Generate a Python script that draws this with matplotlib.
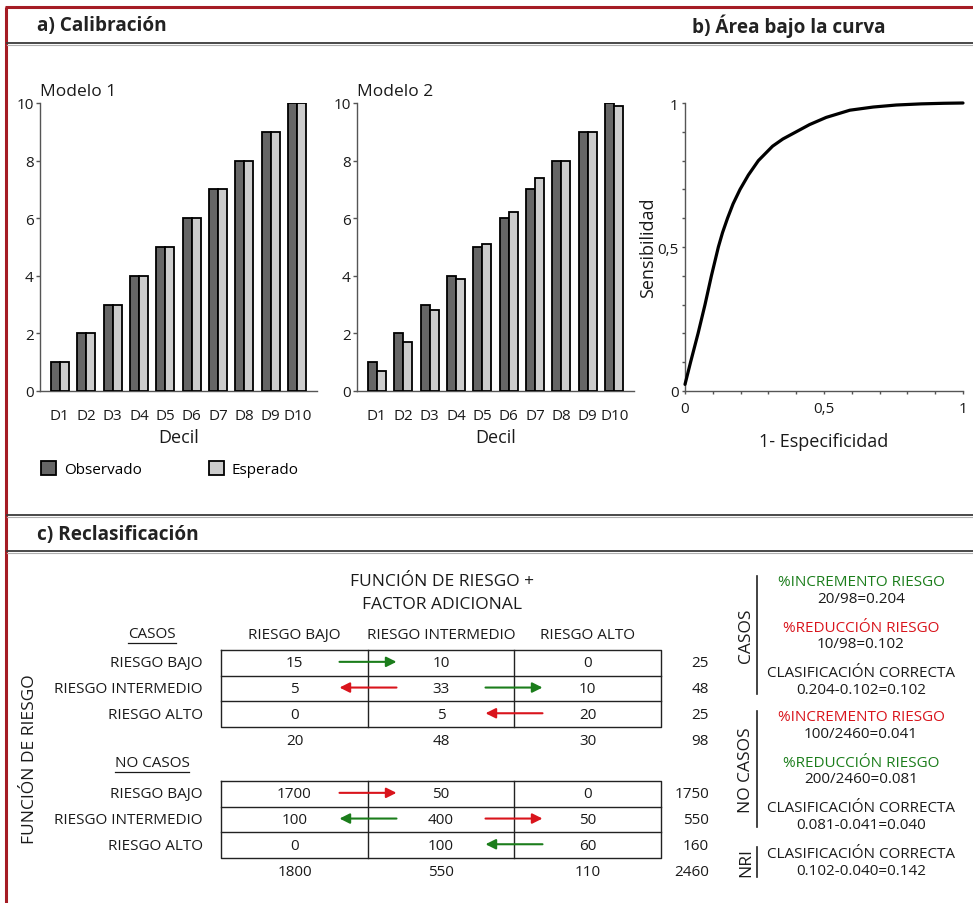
import numpy as np
import matplotlib
matplotlib.use('Agg')
import matplotlib.pyplot as plt

plt.rcParams['font.family'] = ['Open Sans', 'DejaVu Sans']

# ---------------- data ----------------
deciles = ['D1', 'D2', 'D3', 'D4', 'D5', 'D6', 'D7', 'D8', 'D9', 'D10']
m1_observado = [1, 2, 3, 4, 5, 6, 7, 8, 9, 10]
m1_esperado = [1, 2, 3, 4, 5, 6, 7, 8, 9, 10]
m2_observado = [1, 2, 3, 4, 5, 6, 7, 8, 9, 10]
m2_esperado = [0.7, 1.7, 2.8, 3.9, 5.1, 6.2, 7.4, 8.0, 9.0, 9.9]

roc_fpr = [0, 0.020, 0.047, 0.072, 0.095, 0.120, 0.135, 0.153, 0.173, 0.198,
           0.228, 0.264, 0.315, 0.352, 0.40, 0.448, 0.508, 0.593, 0.677, 0.76,
           0.85, 0.93, 1.0]
roc_tpr = [0.023, 0.10, 0.20, 0.30, 0.40, 0.50, 0.55, 0.60, 0.65, 0.70,
           0.75, 0.80, 0.85, 0.875, 0.90, 0.925, 0.95, 0.975, 0.986, 0.993,
           0.997, 0.999, 1.0]

niveles = ['RIESGO BAJO', 'RIESGO INTERMEDIO', 'RIESGO ALTO']
casos = [[15, 10, 0], [5, 33, 10], [0, 5, 20]]
no_casos = [[1700, 50, 0], [100, 400, 50], [0, 100, 60]]
# (fila, columna origen, columna destino, color)
casos_flechas = [(0, 0, 1, 'g'), (1, 1, 0, 'r'), (1, 1, 2, 'g'), (2, 2, 1, 'r')]
no_casos_flechas = [(0, 0, 1, 'r'), (1, 1, 0, 'g'), (1, 1, 2, 'r'), (2, 2, 1, 'g')]

resumen_casos = [('%INCREMENTO RIESGO', '20/98=0.204', 'g'),
                 ('%REDUCCIÓN RIESGO', '10/98=0.102', 'r'),
                 ('CLASIFICACIÓN CORRECTA', '0.204-0.102=0.102', 'k')]
resumen_no_casos = [('%INCREMENTO RIESGO', '100/2460=0.041', 'r'),
                    ('%REDUCCIÓN RIESGO', '200/2460=0.081', 'g'),
                    ('CLASIFICACIÓN CORRECTA', '0.081-0.041=0.040', 'k')]
resumen_nri = [('CLASIFICACIÓN CORRECTA', '0.102-0.040=0.142', 'k')]

COL = {'g': '#1b7d1b', 'r': '#d9141c', 'k': '#1a1a1a'}
RED_BORDER = '#a51c24'

# ---------------- figure ----------------
W, H = 973, 904
fig = plt.figure(figsize=(W / 100, H / 100), dpi=100)


def frac(l, t, r, b):
    return [l / W, 1 - b / H, (r - l) / W, (b - t) / H]


def style_spines(ax):
    for s in ['top', 'right']:
        ax.spines[s].set_visible(False)
    for s in ['left', 'bottom']:
        ax.spines[s].set_color('#555555')
        ax.spines[s].set_linewidth(1.0)
    ax.patch.set_alpha(0)


def bar_panel(rect, obs, esp, title):
    ax = fig.add_axes(frac(*rect))
    x = np.arange(len(deciles))
    w = 0.34
    ax.bar(x - w / 2, obs, w, color='#666666', edgecolor='black', lw=1.3,
           label='Observado', zorder=3)
    ax.bar(x + w / 2, esp, w, color='#cccccc', edgecolor='black', lw=1.3,
           label='Esperado', zorder=3)
    ax.set_xlim(-0.75, 9.75)
    ax.set_ylim(0, 10)
    ax.set_xticks(x, deciles)
    ax.set_yticks(range(0, 11, 2))
    ax.tick_params(axis='x', length=0, pad=12, labelsize=11, labelcolor='#1a1a1a')
    ax.tick_params(axis='y', length=3, width=1, pad=1.5, labelsize=11,
                   color='#555555', labelcolor='#1a1a1a')
    style_spines(ax)
    ax.set_xlabel('Decil', fontsize=13, labelpad=4, color='#1a1a1a')
    ax.set_title(title, loc='left', fontsize=12.5, pad=6, color='#1a1a1a')
    return ax


ax1 = bar_panel((40, 104, 317, 392), m1_observado, m1_esperado, 'Modelo 1')
ax2 = bar_panel((357, 104, 634, 392), m2_observado, m2_esperado, 'Modelo 2')

handles, labels = ax1.get_legend_handles_labels()
fig.legend(handles, labels, loc='center left', bbox_to_anchor=(41 / W, 1 - 470 / H),
           ncol=2, frameon=False, fontsize=11, handlelength=1.0, handleheight=1.0,
           handletextpad=0.5, columnspacing=4.4, borderaxespad=0, borderpad=0)

# ROC
axr = fig.add_axes(frac(685, 104, 963, 392))
axr.plot(roc_fpr, roc_tpr, color='black', lw=2.3, clip_on=False,
         solid_capstyle='round', solid_joinstyle='round', zorder=4)
axr.set_xlim(0, 1)
axr.set_ylim(0, 1)
axr.set_xticks([0, 0.5, 1], ['0', '0,5', '1'])
axr.set_yticks([0, 0.5, 1], ['0', '0,5', '1'])
axr.set_xticks(np.arange(0, 1.01, 0.1), minor=True)
axr.set_yticks(np.arange(0, 1.01, 0.1), minor=True)
axr.tick_params(which='both', length=2.5, width=1, color='#555555')
axr.tick_params(axis='x', pad=5, labelsize=11, labelcolor='#1a1a1a')
axr.tick_params(axis='y', pad=2, labelsize=11, labelcolor='#1a1a1a')
style_spines(axr)
axr.set_xlabel('1- Especificidad', fontsize=13, labelpad=11, color='#1a1a1a')
axr.set_ylabel('Sensibilidad', fontsize=13, labelpad=0, color='#1a1a1a')

# ---------------- overlay (pixel coordinates) ----------------
ov = fig.add_axes([0, 0, 1, 1])
ov.set_xlim(0, W)
ov.set_ylim(H, 0)
ov.axis('off')
ov.patch.set_alpha(0)

# frame
ov.plot([6, 6], [8, H], color=RED_BORDER, lw=2.2, solid_capstyle='butt')
ov.plot([5, W], [8, 8], color=RED_BORDER, lw=2.2, solid_capstyle='butt')
for yy in (44, 516, 552):
    ov.plot([7, W], [yy, yy], color='#3a3a3a', lw=1.3)
    ov.plot([7, W], [yy + 1.6, yy + 1.6], color='#b0b0b0', lw=0.8)

hdr = dict(fontsize=13.7, fontweight='bold', va='center', color='#222222')
ov.text(37, 26, 'a) Calibración', **hdr)
ov.text(692, 26, 'b) Área bajo la curva', **hdr)
ov.text(37, 535, 'c) Reclasificación', **hdr)

# ---------------- reclassification tables ----------------
fs = 11
tcol = '#1a1a1a'
tbl_l, tbl_r = 221, 661
col_div = [368, 514]
col_edges = [tbl_l] + col_div + [tbl_r]
col_c = [(col_edges[i] + col_edges[i + 1]) / 2 for i in range(3)]
rh = 25.7

ov.text(442, 582, 'FUNCIÓN DE RIESGO +', ha='center', va='center', fontsize=12.5, color=tcol)
ov.text(442, 605, 'FACTOR ADICIONAL', ha='center', va='center', fontsize=12.5, color=tcol)
for c, name in zip(col_c, niveles):
    ov.text(c, 636, name, ha='center', va='center', fontsize=fs, color=tcol)
ov.text(30, 759, 'FUNCIÓN DE RIESGO', rotation=90, ha='center', va='center',
        fontsize=12.5, color=tcol)

underlined = []


def draw_table(top, data, arrows, label, label_y):
    t = ov.text(152, label_y, label, ha='center', va='center', fontsize=fs, color=tcol)
    underlined.append((t, label_y))
    data = np.array(data)
    bottom = top + 3 * rh
    ov.plot([tbl_l, tbl_r, tbl_r, tbl_l, tbl_l], [top, top, bottom, bottom, top],
            color='#222222', lw=1.0)
    for i in range(1, 3):
        ov.plot([tbl_l, tbl_r], [top + i * rh] * 2, color='#222222', lw=1.0)
    for xd in col_div:
        ov.plot([xd, xd], [top, bottom], color='#222222', lw=1.0)
    for i in range(3):
        yc = top + (i + 0.5) * rh
        ov.text(203, yc, niveles[i], ha='right', va='center', fontsize=fs, color=tcol)
        for j in range(3):
            ov.text(col_c[j], yc, f'{data[i, j]}', ha='center', va='center',
                    fontsize=fs, color=tcol)
        ov.text(709, yc, f'{data[i].sum()}', ha='right', va='center', fontsize=fs, color=tcol)
    ytot = bottom + 13
    for j in range(3):
        ov.text(col_c[j], ytot, f'{data[:, j].sum()}', ha='center', va='center',
                fontsize=fs, color=tcol)
    ov.text(709, ytot, f'{data.sum()}', ha='right', va='center', fontsize=fs, color=tcol)
    for (r, c0, c1, ck) in arrows:
        yc = top + (r + 0.5) * rh - 1
        xd = col_div[min(c0, c1)]
        xs, xe = (xd - 28.5, xd + 28.5) if c1 > c0 else (xd + 28.5, xd - 28.5)
        ov.annotate('', xy=(xe, yc), xytext=(xs, yc),
                    arrowprops=dict(arrowstyle='-|>,head_length=0.6,head_width=0.3',
                                    color=COL[ck], lw=1.5, shrinkA=0, shrinkB=0,
                                    mutation_scale=10))


draw_table(651, casos, casos_flechas, 'CASOS', 635)
draw_table(782, no_casos, no_casos_flechas, 'NO CASOS', 764)


# ---------------- summary panel ----------------
def summary(block, y0, label, line_top, line_bot, label_fs=12.5):
    y = y0
    for title, value, ck in block:
        ov.text(861, y, title, ha='center', va='center', fontsize=fs, color=COL[ck])
        ov.text(861, y + 16.5, value, ha='center', va='center', fontsize=fs, color=tcol)
        y += 45.5
    ov.plot([757, 757], [line_top, line_bot], color='#222222', lw=1.2)
    ov.text(746, (line_top + line_bot) / 2, label, rotation=90, ha='center', va='center',
            fontsize=label_fs, color=tcol)


summary(resumen_casos, 583, 'CASOS', 577, 695)
summary(resumen_no_casos, 718, 'NO CASOS', 712, 828)
summary(resumen_nri, 855, 'NRI', 848, 878)

# underline group labels
fig.canvas.draw()
renderer = fig.canvas.get_renderer()
inv = ov.transData.inverted()
for t, ly in underlined:
    bb = t.get_window_extent(renderer)
    (x0, _), (x1, _) = inv.transform([(bb.x0, bb.y0), (bb.x1, bb.y1)])
    ov.plot([x0, x1], [ly + 8.5, ly + 8.5], color=tcol, lw=0.9)

fig.savefig('out.png', dpi=100)
